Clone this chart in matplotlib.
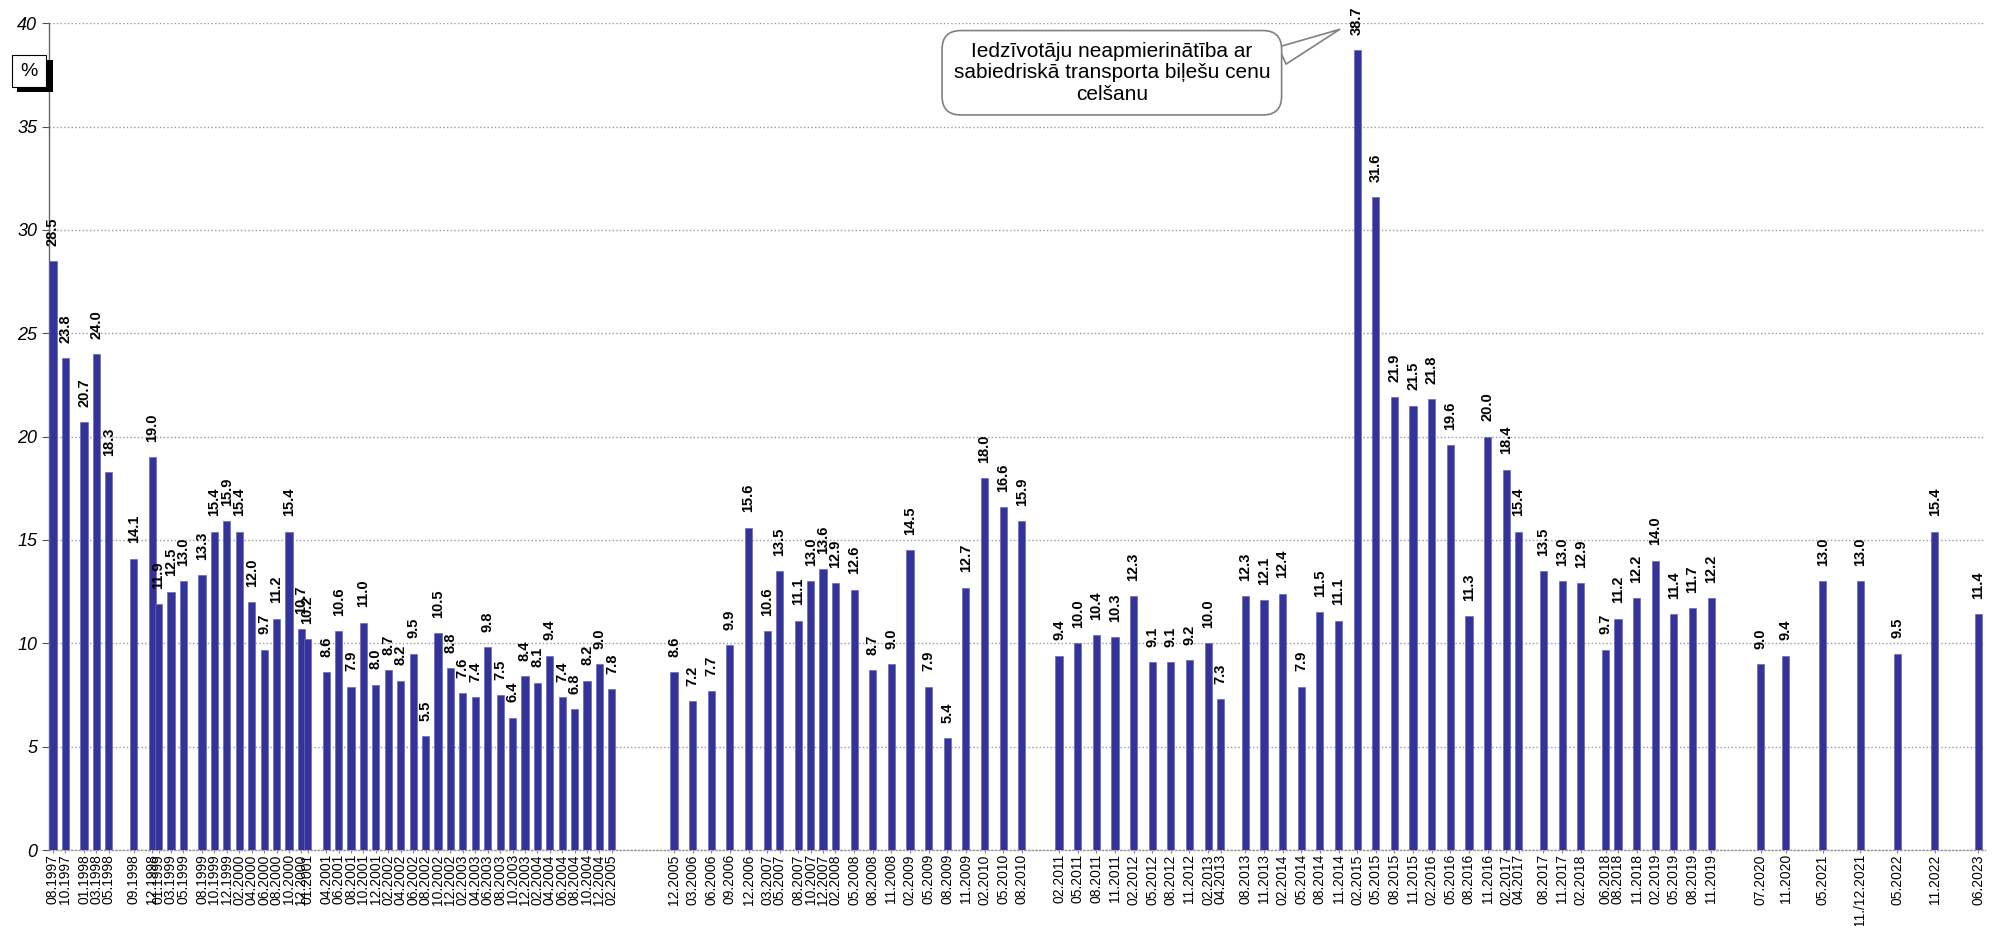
import matplotlib.pyplot as plt
import matplotlib as mpl
from matplotlib.patches import Rectangle

params = {
    'font.family': ['Liberation Sans', 'DejaVu Sans'],
    'font.size': 10,
    'axes.linewidth': 1.0,
}
mpl.rcParams.update(params)

# survey waves (month.year) and share of respondents, %
labels = [
    '08.1997', '10.1997', '01.1998', '03.1998', '05.1998', '09.1998', '12.1998',
    '01.1999', '03.1999', '05.1999', '08.1999', '10.1999', '12.1999', '02.2000',
    '04.2000', '06.2000', '08.2000', '10.2000', '12.2000', '01.2001', '04.2001',
    '06.2001', '08.2001', '10.2001', '12.2001', '02.2002', '04.2002', '06.2002',
    '08.2002', '10.2002', '12.2002', '02.2003', '04.2003', '06.2003', '08.2003',
    '10.2003', '12.2003', '02.2004', '04.2004', '06.2004', '08.2004', '10.2004',
    '12.2004', '02.2005',
    '12.2005', '03.2006', '06.2006', '09.2006', '12.2006', '03.2007', '05.2007',
    '08.2007', '10.2007', '12.2007', '02.2008', '05.2008', '08.2008', '11.2008',
    '02.2009', '05.2009', '08.2009', '11.2009', '02.2010', '05.2010', '08.2010',
    '02.2011', '05.2011', '08.2011', '11.2011', '02.2012', '05.2012', '08.2012',
    '11.2012', '02.2013', '04.2013', '08.2013', '11.2013', '02.2014', '05.2014',
    '08.2014', '11.2014', '02.2015', '05.2015', '08.2015', '11.2015', '02.2016',
    '05.2016', '08.2016', '11.2016', '02.2017', '04.2017', '08.2017', '11.2017',
    '02.2018', '06.2018', '08.2018', '11.2018', '02.2019', '05.2019', '08.2019',
    '11.2019', '07.2020', '11.2020', '05.2021', '11./12.2021', '05.2022',
    '11.2022', '06.2023',
]
values = [
    28.5, 23.8, 20.7, 24.0, 18.3, 14.1, 19.0,
    11.9, 12.5, 13.0, 13.3, 15.4, 15.9, 15.4,
    12.0, 9.7, 11.2, 15.4, 10.7, 10.2, 8.6,
    10.6, 7.9, 11.0, 8.0, 8.7, 8.2, 9.5,
    5.5, 10.5, 8.8, 7.6, 7.4, 9.8, 7.5,
    6.4, 8.4, 8.1, 9.4, 7.4, 6.8, 8.2,
    9.0, 7.8,
    8.6, 7.2, 7.7, 9.9, 15.6, 10.6, 13.5,
    11.1, 13.0, 13.6, 12.9, 12.6, 8.7, 9.0,
    14.5, 7.9, 5.4, 12.7, 18.0, 16.6, 15.9,
    9.4, 10.0, 10.4, 10.3, 12.3, 9.1, 9.1,
    9.2, 10.0, 7.3, 12.3, 12.1, 12.4, 7.9,
    11.5, 11.1, 38.7, 31.6, 21.9, 21.5, 21.8,
    19.6, 11.3, 20.0, 18.4, 15.4, 13.5, 13.0,
    12.9, 9.7, 11.2, 12.2, 14.0, 11.4, 11.7,
    12.2, 9.0, 9.4, 13.0, 13.0, 9.5,
    15.4, 11.4,
]
note = 'Iedzīvotāju neapmierinātība ar\nsabiedriskā transporta biļešu cenu\ncelšanu'


def month_index(lbl):
    # months counted from 08.1997
    mm = lbl.split('.')[0]
    yy = lbl.split('.')[-1]
    return (int(yy) - 1997) * 12 + int(mm) - 8


xs = [month_index(l) for l in labels]

fig = plt.figure(figsize=(19.97, 9.26), dpi=100)
ax = fig.add_axes([0.0245, 0.082, 0.9695, 0.893])

bar_color = '#333399'
ax.bar(xs, values, width=1.15, color=bar_color, edgecolor='#6a6ab8', linewidth=0.5, zorder=3)

for x, v in zip(xs, values):
    ax.annotate('%.1f' % v, (x, v), xytext=(0, 11), textcoords='offset points',
                rotation=90, ha='center', va='bottom', fontsize=10.5,
                fontweight='bold', zorder=4)

ax.set_xlim(-0.65, 311.1)
ax.set_ylim(0, 40)
ax.set_yticks(range(0, 41, 5))
ax.set_yticklabels([str(t) for t in range(0, 41, 5)], fontstyle='italic', fontsize=13)
ax.set_xticks(xs)
ax.set_xticklabels(labels, rotation=90, fontsize=10)
ax.tick_params(axis='x', length=2, pad=1, colors='#888888', labelcolor='black')
ax.tick_params(axis='y', length=5, color='#555555')

ax.grid(axis='y', linestyle=':', color='#999999', linewidth=1.0, zorder=0)
for s in ['top', 'right']:
    ax.spines[s].set_visible(False)
ax.spines['bottom'].set_linestyle(':')
ax.spines['bottom'].set_color('#999999')
ax.spines['left'].set_color('#666666')

# callout
ax.annotate(note, xy=(month_index('02.2015') - 2.8, 39.7), xytext=(170.5, 37.6),
            ha='center', va='center', fontsize=15, zorder=6, linespacing=1.15,
            bbox=dict(boxstyle='round,pad=0.55,rounding_size=0.9', fc='white',
                      ec='#808080', lw=1.2),
            arrowprops=dict(arrowstyle='wedge,tail_width=0.9,shrink_factor=0.5',
                            fc='white', ec='#808080', lw=1.2,
                            relpos=(0.97, 0.62), shrinkA=0, shrinkB=0))

# % badge with shadow
fig.patches.append(Rectangle((17 / 1997, 1 - 92 / 926), 36 / 1997, 32 / 926,
                             transform=fig.transFigure, fc='black', ec='none', zorder=5))
fig.patches.append(Rectangle((12 / 1997, 1 - 87 / 926), 34 / 1997, 32 / 926,
                             transform=fig.transFigure, fc='white', ec='black', lw=0.8, zorder=6))
fig.text(29 / 1997, 1 - 71 / 926, '%', ha='center', va='center', fontsize=14, zorder=7)

plt.savefig('out.png', dpi=100)
plt.close()
